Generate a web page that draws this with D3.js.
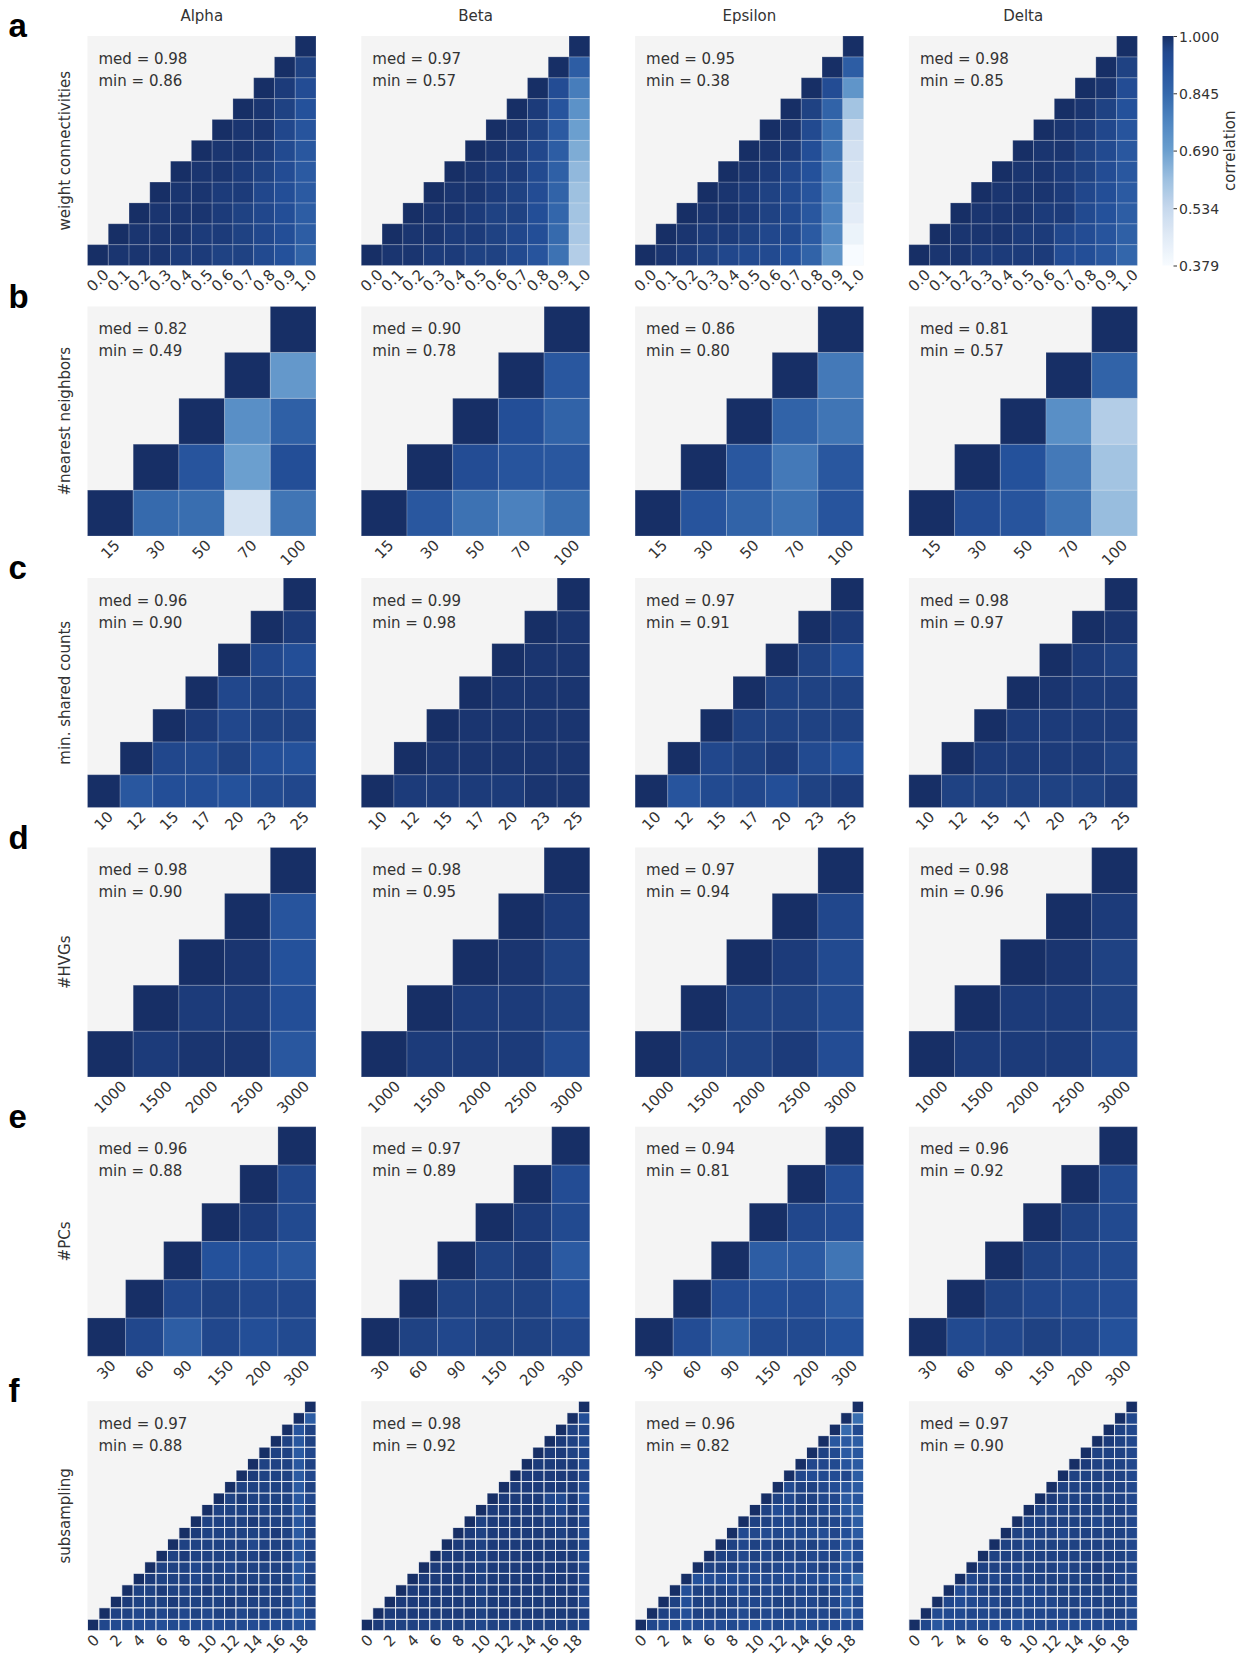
<!DOCTYPE html>
<html>
<head>
<meta charset="utf-8">
<script src="https://cdn.jsdelivr.net/npm/d3@7"></script>
<style>
  html, body { margin: 0; padding: 0; background: #fff; }
  svg { display: block; }
  text { font-family: "DejaVu Sans", sans-serif; fill: #333; }
</style>
</head>
<body>
<svg id="fig" width="1247" height="1657"></svg>
<script>
// ---------------------------------------------------------------
// Robustness of clustering correlations across parameter choices.
// Each matrix lists, for row i (counted from the bottom), the
// correlations with parameter j = i+1 .. n-1; the diagonal is 1.
// ---------------------------------------------------------------

const datasets = ["Alpha", "Beta", "Epsilon", "Delta"];
const panelLetters = ["a", "b", "c", "d", "e", "f"];
const parameterNames = ["weight connectivities", "#nearest neighbors", "min. shared counts",
                        "#HVGs", "#PCs", "subsampling"];

// --- a: weight connectivities ---
const weightCats = ["0.0", "0.1", "0.2", "0.3", "0.4", "0.5", "0.6", "0.7", "0.8", "0.9", "1.0"];
const weightMed = [0.98, 0.97, 0.95, 0.98];
const weightAlpha = [
  [.99, .99, .99, .98, .98, .97, .97, .95, .92, .86],
  [.99, .99, .99, .98, .98, .97, .96, .93, .88],
  [.99, .99, .99, .98, .97, .96, .93, .88],
  [.99, .99, .98, .98, .96, .93, .89],
  [.99, .99, .98, .97, .94, .89],
  [.99, .99, .98, .95, .90],
  [.99, .99, .96, .91],
  [.99, .97, .92],
  [.98, .94],
  [.97]
];
const weightBeta = [
  [.99, .99, .98, .98, .97, .97, .95, .91, .82, .57],
  [.99, .99, .98, .98, .97, .96, .93, .84, .59],
  [.99, .99, .98, .97, .97, .93, .85, .60],
  [.99, .99, .98, .97, .94, .86, .61],
  [.99, .98, .98, .95, .87, .63],
  [.99, .98, .96, .88, .66],
  [.99, .97, .89, .69],
  [.98, .91, .73],
  [.94, .79],
  [.88]
];
const weightEpsilon = [
  [.99, .98, .97, .96, .95, .95, .92, .86, .72, .38],
  [.99, .98, .98, .97, .96, .95, .89, .76, .42],
  [.99, .99, .98, .97, .95, .90, .78, .45],
  [.99, .98, .97, .95, .91, .79, .47],
  [.99, .98, .96, .92, .80, .48],
  [.99, .98, .93, .81, .50],
  [.99, .95, .83, .53],
  [.97, .86, .60],
  [.94, .72],
  [.88]
];
const weightDelta = [
  [.99, .99, .98, .98, .98, .98, .94, .93, .90, .85],
  [.99, .99, .99, .98, .98, .96, .94, .91, .87],
  [.99, .99, .99, .98, .98, .95, .92, .88],
  [.99, .99, .99, .98, .96, .93, .89],
  [.99, .99, .98, .97, .94, .90],
  [.99, .99, .97, .95, .90],
  [.99, .98, .96, .91],
  [.99, .97, .92],
  [.99, .94],
  [.97]
];

// --- b: number of nearest neighbors ---
const neighborCats = ["15", "30", "50", "70", "100"];
const neighborMed = [0.82, 0.90, 0.86, 0.81];
const neighborAlpha = [[.84, .83, .49, .81], [.91, .69, .93], [.74, .87], [.71]];
const neighborBeta = [[.90, .82, .78, .83], [.94, .91, .90], [.93, .86], [.90]];
const neighborEpsilon = [[.91, .86, .82, .91], [.90, .80, .90], [.86, .81], [.80]];
const neighborDelta = [[.94, .91, .82, .62], [.92, .80, .60], [.74, .57], [.86]];

// --- c: minimum shared counts ---
const countCats = ["10", "12", "15", "17", "20", "23", "25"];
const countMed = [0.96, 0.99, 0.97, 0.98];
const countAlpha = [[.90, .93, .93, .92, .95, .96], [.96, .95, .97, .93, .92], [.98, .96, .97, .97], [.96, .97, .96], [.96, .93], [.98]];
const countBeta = [[.98, .98, .98, .98, .99, .99], [.99, .99, .99, .99, .99], [.99, .99, .99, .99], [.99, .99, .99], [.99, .99], [.99]];
const countEpsilon = [[.91, .95, .96, .93, .97, .98], [.96, .97, .98, .95, .92], [.97, .97, .97, .97], [.97, .97, .97], [.97, .93], [.98]];
const countDelta = [[.97, .97, .97, .97, .97, .98], [.98, .98, .98, .98, .97], [.98, .98, .98, .98], [.99, .98, .98], [.98, .97], [.99]];

// --- d: number of highly variable genes ---
const hvgCats = ["1000", "1500", "2000", "2500", "3000"];
const hvgMed = [0.98, 0.98, 0.97, 0.98];
const hvgAlpha = [[.98, .99, .99, .90], [.98, .98, .93], [.99, .92], [.91]];
const hvgBeta = [[.98, .98, .98, .95], [.98, .98, .97], [.99, .97], [.98]];
const hvgEpsilon = [[.97, .97, .98, .94], [.97, .97, .95], [.98, .95], [.96]];
const hvgDelta = [[.98, .98, .98, .96], [.98, .98, .97], [.99, .97], [.98]];

// --- e: number of principal components ---
const pcCats = ["30", "60", "90", "150", "200", "300"];
const pcMed = [0.96, 0.97, 0.94, 0.96];
const pcAlpha = [[.96, .88, .96, .93, .95], [.96, .97, .96, .96], [.92, .92, .90], [.98, .95], [.96]];
const pcBeta = [[.97, .96, .97, .97, .96], [.97, .97, .97, .93], [.97, .98, .89], [.98, .95], [.94]];
const pcEpsilon = [[.94, .87, .95, .95, .92], [.94, .93, .94, .89], [.88, .89, .81], [.96, .94], [.94]];
const pcDelta = [[.95, .96, .97, .96, .92], [.97, .96, .95, .94], [.97, .96, .95], [.97, .95], [.95]];

// --- f: subsampling runs ---
const subCats = ["0", "1", "2", "3", "4", "5", "6", "7", "8", "9",
                 "10", "11", "12", "13", "14", "15", "16", "17", "18", "19"];
const subTicks = ["0", "2", "4", "6", "8", "10", "12", "14", "16", "18"];
const subMed = [0.97, 0.98, 0.96, 0.97];
const subAlpha = [
  [.96, .95, .95, .94, .94, .93, .95, .94, .95, .94, .94, .95, .95, .94, .95, .94, .95, .91, .94],
  [.97, .97, .96, .97, .96, .97, .96, .97, .96, .97, .97, .96, .97, .96, .97, .96, .90, .96],
  [.98, .97, .97, .97, .98, .97, .97, .97, .97, .98, .97, .97, .97, .97, .97, .89, .97],
  [.97, .97, .98, .97, .97, .97, .98, .97, .97, .97, .98, .97, .97, .97, .90, .96],
  [.98, .97, .97, .97, .96, .97, .97, .97, .97, .97, .97, .97, .97, .89, .97],
  [.97, .97, .97, .96, .97, .97, .96, .97, .97, .97, .97, .97, .89, .96],
  [.97, .98, .97, .97, .97, .97, .97, .97, .98, .97, .97, .89, .97],
  [.97, .97, .97, .97, .97, .97, .96, .97, .97, .97, .90, .96],
  [.98, .97, .97, .97, .97, .97, .97, .98, .97, .89, .97],
  [.97, .97, .97, .97, .98, .97, .97, .97, .90, .96],
  [.97, .97, .97, .97, .97, .97, .97, .89, .97],
  [.97, .98, .97, .97, .97, .97, .90, .96],
  [.97, .97, .97, .97, .97, .89, .97],
  [.98, .97, .97, .97, .89, .96],
  [.97, .97, .97, .90, .97],
  [.97, .97, .89, .96],
  [.97, .90, .97],
  [.91, .97],
  [.88]
];
const subBeta = [
  [.98, .97, .97, .97, .97, .97, .97, .97, .97, .96, .97, .97, .97, .97, .97, .97, .97, .97, .96],
  [.98, .98, .98, .98, .98, .98, .98, .98, .97, .98, .98, .98, .98, .98, .98, .98, .98, .97],
  [.98, .98, .98, .98, .98, .98, .98, .97, .98, .98, .98, .98, .98, .98, .98, .98, .96],
  [.98, .98, .98, .98, .98, .98, .97, .98, .98, .98, .98, .98, .98, .98, .98, .96],
  [.98, .98, .98, .98, .98, .97, .98, .98, .98, .98, .98, .98, .98, .98, .96],
  [.98, .98, .98, .98, .97, .98, .98, .98, .98, .98, .98, .98, .98, .96],
  [.98, .98, .98, .97, .98, .98, .98, .98, .98, .98, .98, .98, .95],
  [.98, .98, .97, .98, .98, .98, .98, .98, .98, .98, .98, .96],
  [.98, .97, .98, .98, .98, .98, .98, .98, .97, .98, .95],
  [.97, .98, .98, .98, .98, .98, .97, .97, .98, .96],
  [.98, .98, .98, .98, .98, .97, .96, .98, .95],
  [.98, .98, .98, .98, .96, .95, .98, .92],
  [.98, .98, .98, .98, .98, .98, .95],
  [.98, .98, .98, .98, .98, .96],
  [.98, .98, .98, .98, .95],
  [.98, .98, .97, .96],
  [.98, .97, .95],
  [.97, .96],
  [.93]
];
const subEpsilon = [
  [.96, .95, .95, .93, .94, .94, .94, .95, .94, .92, .94, .95, .94, .93, .94, .95, .94, .94, .94],
  [.97, .96, .93, .97, .97, .97, .96, .95, .97, .96, .96, .97, .96, .96, .96, .97, .90, .94],
  [.97, .93, .97, .97, .97, .97, .96, .96, .96, .97, .97, .96, .96, .97, .96, .89, .95],
  [.93, .97, .97, .97, .96, .95, .97, .96, .96, .97, .96, .96, .97, .96, .90, .94],
  [.92, .94, .94, .93, .95, .94, .95, .95, .94, .95, .94, .93, .90, .92, .82],
  [.97, .97, .97, .95, .96, .97, .96, .96, .95, .96, .97, .96, .91, .96],
  [.97, .97, .96, .97, .96, .97, .96, .97, .96, .96, .97, .89, .93],
  [.97, .96, .97, .96, .97, .97, .96, .97, .96, .96, .90, .94],
  [.95, .96, .95, .96, .95, .96, .95, .94, .96, .93, .89],
  [.97, .97, .96, .96, .97, .96, .97, .96, .93, .88],
  [.97, .94, .96, .97, .97, .96, .95, .90, .87],
  [.97, .96, .97, .97, .96, .96, .89, .91],
  [.95, .97, .97, .96, .94, .91, .89],
  [.96, .94, .95, .94, .96, .88],
  [.96, .96, .95, .91, .89],
  [.97, .95, .89, .90],
  [.90, .89, .88],
  [.84, .95],
  [.83]
];
const subDelta = [
  [.96, .90, .93, .94, .94, .95, .94, .93, .92, .94, .95, .95, .94, .95, .94, .95, .95, .95, .94],
  [.95, .95, .95, .96, .96, .96, .97, .95, .96, .96, .96, .96, .97, .96, .96, .97, .97, .95],
  [.96, .94, .95, .96, .96, .97, .96, .96, .96, .96, .97, .97, .96, .97, .97, .97, .95],
  [.94, .95, .97, .97, .97, .96, .96, .96, .97, .97, .97, .97, .97, .97, .97, .96],
  [.96, .97, .96, .97, .96, .97, .97, .97, .97, .97, .97, .97, .98, .96, .96],
  [.97, .97, .97, .96, .97, .97, .97, .96, .97, .97, .98, .97, .97, .96],
  [.97, .97, .97, .97, .97, .97, .97, .97, .97, .97, .97, .97, .96],
  [.97, .97, .96, .97, .97, .97, .97, .97, .97, .97, .97, .96],
  [.97, .97, .97, .97, .96, .97, .97, .97, .97, .97, .96],
  [.97, .97, .97, .97, .97, .97, .96, .97, .97, .96],
  [.97, .97, .97, .97, .97, .97, .97, .97, .96],
  [.98, .97, .97, .97, .97, .97, .97, .96],
  [.97, .97, .97, .97, .97, .97, .96],
  [.97, .97, .97, .97, .97, .96],
  [.98, .97, .97, .97, .96],
  [.97, .97, .97, .96],
  [.98, .97, .96],
  [.97, .96],
  [.96]
];

// Colour-bar range and ticks
const corrMin = 0.379, corrMax = 1.0;
const colorbarTicks = [0.379, 0.534, 0.690, 0.845, 1.000];

// ---------------------------------------------------------------
const panelRows = [
  { cats: weightCats,   ticks: weightCats,   med: weightMed,   mats: [weightAlpha, weightBeta, weightEpsilon, weightDelta] },
  { cats: neighborCats, ticks: neighborCats, med: neighborMed, mats: [neighborAlpha, neighborBeta, neighborEpsilon, neighborDelta] },
  { cats: countCats,    ticks: countCats,    med: countMed,    mats: [countAlpha, countBeta, countEpsilon, countDelta] },
  { cats: hvgCats,      ticks: hvgCats,      med: hvgMed,      mats: [hvgAlpha, hvgBeta, hvgEpsilon, hvgDelta] },
  { cats: pcCats,       ticks: pcCats,       med: pcMed,       mats: [pcAlpha, pcBeta, pcEpsilon, pcDelta] },
  { cats: subCats,      ticks: subTicks,     med: subMed,      mats: [subAlpha, subBeta, subEpsilon, subDelta] }
];

// Layout
const colLeft = [87.5, 361.3, 635.1, 908.9];
const rowTop = [36, 306.5, 578, 847.5, 1126.7, 1401.2];
const panelW = 228.5, panelH = 229.5;

// Blues-style sequential colour map (position in [0,1] -> colour)
const cmapPos   = [0, 0.125, 0.25, 0.375, 0.5, 0.625, 0.75, 0.875, 0.9375, 1];
const cmapStops = ["#f7fbff", "#e1ebf6", "#c6d8ed", "#9dc0e0", "#6b9fcf",
                   "#4f86c1", "#3468ac", "#24509a", "#21478c", "#172f66"];
const color = d3.scaleLinear()
  .domain(cmapPos.map(t => corrMin + (corrMax - corrMin) * t))
  .range(cmapStops)
  .interpolate(d3.interpolateRgb)
  .clamp(true);

const svg = d3.select("#fig");

// Column titles
datasets.forEach((name, c) => {
  svg.append("text")
    .attr("x", colLeft[c] + panelW / 2)
    .attr("y", 21)
    .attr("text-anchor", "middle")
    .attr("font-size", 15)
    .text(name);
});

panelRows.forEach((row, r) => {
  const y0 = rowTop[r];

  // Panel letter
  svg.append("text")
    .attr("x", 8.5)
    .attr("y", y0 + 1)
    .style("font-family", "'Liberation Sans', Arial, sans-serif")
    .style("font-weight", "bold")
    .style("fill", "#000")
    .attr("font-size", 33)
    .text(panelLetters[r]);

  // Parameter label
  svg.append("text")
    .attr("transform", `translate(70,${y0 + panelH / 2}) rotate(-90)`)
    .attr("text-anchor", "middle")
    .attr("font-size", 15)
    .text(parameterNames[r]);

  row.mats.forEach((mat, c) => {
    const g = svg.append("g").attr("transform", `translate(${colLeft[c]},${y0})`);
    const x = d3.scaleBand().domain(row.cats).range([0, panelW]);
    const y = d3.scaleBand().domain(row.cats).range([panelH, 0]);

    g.append("rect")
      .attr("width", panelW)
      .attr("height", panelH)
      .attr("fill", "#f4f4f4");

    const cells = [];
    row.cats.forEach((ci, i) => {
      row.cats.forEach((cj, j) => {
        if (j >= i) cells.push({ ci, cj, diag: i === j, v: i === j ? 1 : mat[i][j - i - 1] });
      });
    });

    g.selectAll("rect.cell")
      .data(cells)
      .join("rect")
      .attr("class", "cell")
      .attr("x", d => x(d.cj))
      .attr("y", d => y(d.ci))
      .attr("width", x.bandwidth())
      .attr("height", y.bandwidth())
      .attr("fill", d => color(d.v))
      .attr("stroke", "#fff")
      .attr("stroke-opacity", r === 5 ? 0.8 : 0.2)
      .attr("stroke-width", 1);

    const offDiag = cells.filter(d => !d.diag).map(d => d.v);
    g.append("text").attr("x", 11).attr("y", 27.5).attr("font-size", 15)
      .text(`med = ${row.med[c].toFixed(2)}`);
    g.append("text").attr("x", 11).attr("y", 49.5).attr("font-size", 15)
      .text(`min = ${d3.min(offDiag).toFixed(2)}`);

    // Rotated category labels along the bottom
    const ax = g.append("g")
      .attr("transform", `translate(0,${panelH})`)
      .call(d3.axisBottom(x).tickSize(0).tickPadding(0).tickValues(row.ticks));
    ax.select(".domain").remove();
    ax.attr("font-family", null).attr("font-size", null);
    ax.selectAll("text").each(function () {
      const t = d3.select(this).attr("font-size", 15).style("fill", "#333");
      const w = this.getComputedTextLength();
      const half = (w + 10.5) * Math.SQRT1_2 / 2;
      t.attr("y", null).attr("dy", null)
        .attr("text-anchor", "middle")
        .attr("dominant-baseline", "central")
        .attr("transform", `translate(0,${3 + half}) rotate(-45)`);
    });
  });
});

// Colour bar
const cbX = 1162.5, cbW = 11, cbTop = rowTop[0], cbBottom = rowTop[0] + panelH;
const defs = svg.append("defs");
const grad = defs.append("linearGradient").attr("id", "cbgrad")
  .attr("x1", 0).attr("y1", 1).attr("x2", 0).attr("y2", 0);
d3.range(0, 1.0001, 0.025).forEach(t => {
  grad.append("stop").attr("offset", t).attr("stop-color", color(corrMin + t * (corrMax - corrMin)));
});
svg.append("rect")
  .attr("x", cbX).attr("y", cbTop)
  .attr("width", cbW).attr("height", cbBottom - cbTop)
  .attr("fill", "url(#cbgrad)");

const cbScale = d3.scaleLinear().domain([corrMin, corrMax]).range([cbBottom, cbTop]);
const cbAxis = svg.append("g")
  .attr("transform", `translate(${cbX + cbW},0)`)
  .call(d3.axisRight(cbScale).tickValues(colorbarTicks).tickFormat(d3.format(".3f")).tickSize(3.5).tickPadding(2));
cbAxis.select(".domain").remove();
cbAxis.attr("font-family", null).attr("font-size", null);
cbAxis.selectAll("line").attr("stroke", "#333");
cbAxis.selectAll("text").attr("font-size", 14).style("fill", "#333").attr("dy", null)
  .attr("dominant-baseline", "central");

svg.append("text")
  .attr("transform", `translate(1235,${(cbTop + cbBottom) / 2}) rotate(-90)`)
  .attr("text-anchor", "middle")
  .attr("font-size", 15)
  .text("correlation");
</script>
</body>
</html>
